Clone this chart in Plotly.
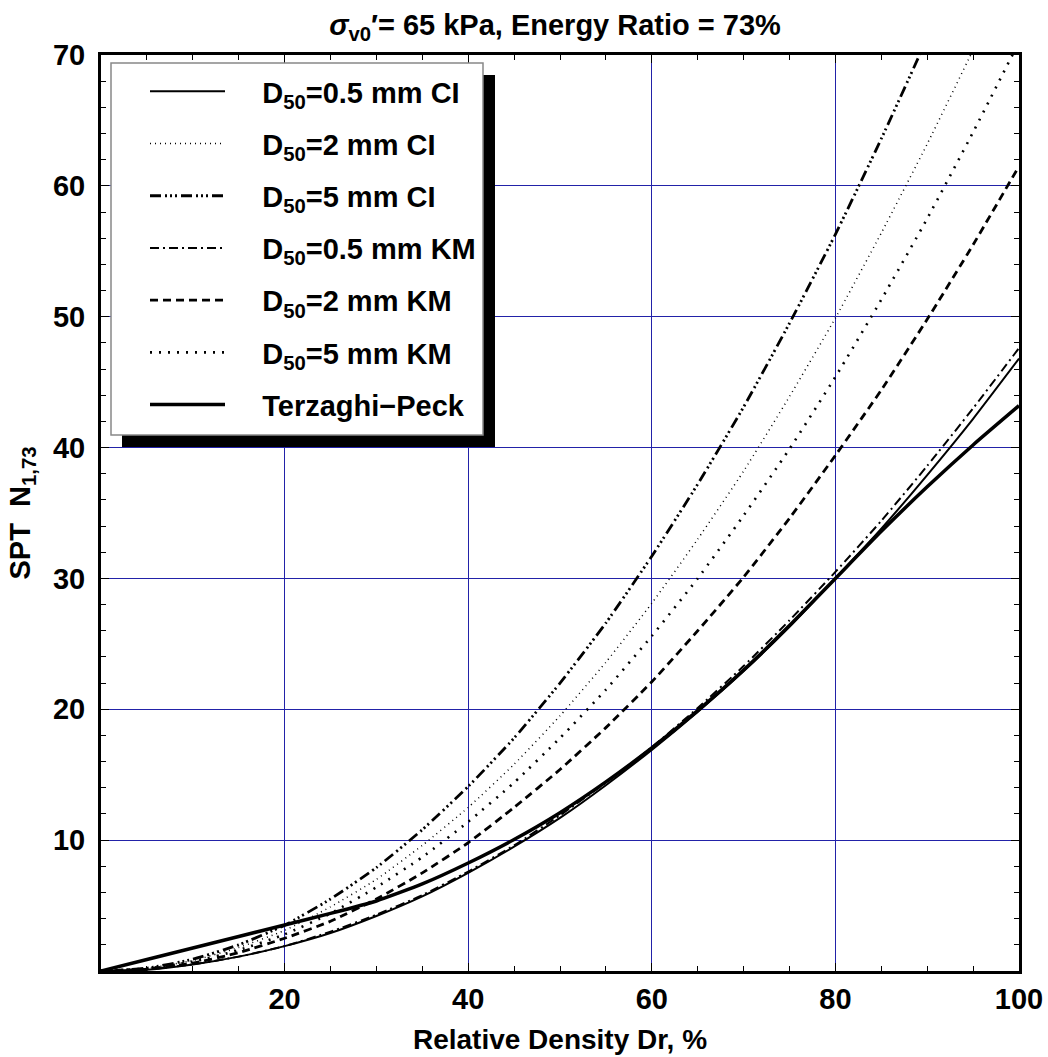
import plotly.graph_objects as go

dr = [0, 5, 10, 15, 20, 25, 30, 35, 40, 45, 50, 55, 60, 65, 70, 75, 80, 85, 90, 95, 100]

n_05_ci = [0, 0.1, 0.5, 1.1, 1.9, 2.9, 4.2, 5.7, 7.5, 9.5, 11.7, 14.2, 16.9, 19.8, 22.9, 26.3, 30.0, 33.8, 37.9, 42.2, 46.8]
n_2_ci = [0, 0.2, 0.8, 1.8, 3.1, 4.9, 7.0, 9.6, 12.5, 15.8, 19.5, 23.6, 28.1, 33.0, 38.2, 43.9, 49.9, 56.4, 63.2, 70.4, 78.0]
n_5_ci = [0, 0.22, 0.9, 2.0, 3.5, 5.5, 7.9, 10.8, 14.1, 17.8, 22.0, 26.6, 31.7, 37.2, 43.1, 49.5, 56.3, 63.6, 71.3, 79.4, 88.0]
n_05_km = [0, 0.12, 0.5, 1.1, 1.9, 3.0, 4.3, 5.8, 7.6, 9.6, 11.9, 14.4, 17.1, 20.1, 23.3, 26.8, 30.5, 34.4, 38.6, 43.0, 47.6]
n_2_km = [0, 0.15, 0.6, 1.4, 2.5, 3.8, 5.5, 7.5, 9.8, 12.5, 15.4, 18.6, 22.1, 26.0, 30.1, 34.6, 39.4, 44.4, 49.8, 55.5, 61.5]
n_5_km = [0, 0.2, 0.7, 1.6, 2.8, 4.4, 6.4, 8.7, 11.4, 14.4, 17.8, 21.5, 25.6, 30.0, 34.8, 39.9, 45.4, 51.3, 57.5, 64.1, 71.0]
n_tp = [0, 0.88, 1.76, 2.64, 3.52, 4.4, 5.35, 6.65, 8.25, 10.05, 12.1, 14.45, 17.05, 19.9, 23.0, 26.4, 30.0, 33.6, 37.0, 40.2, 43.2]

names = ["D<sub>50</sub>=0.5 mm CI", "D<sub>50</sub>=2 mm CI", "D<sub>50</sub>=5 mm CI",
         "D<sub>50</sub>=0.5 mm KM", "D<sub>50</sub>=2 mm KM", "D<sub>50</sub>=5 mm KM", "Terzaghi\u2212Peck"]
series = [n_05_ci, n_2_ci, n_5_ci, n_05_km, n_2_km, n_5_km, n_tp]
styles = [
    dict(width=2, dash="solid"),
    dict(width=1.5, dash="1px,4px"),
    dict(width=2.8, dash="11px,4px,2px,3px,2px,3px,2px,4px"),
    dict(width=2, dash="9px,4px,2px,4px"),
    dict(width=2.8, dash="8px,5px"),
    dict(width=2.6, dash="2px,7px"),
    dict(width=3.5, dash="solid"),
]

FONT = "Arial, Liberation Sans, sans-serif"
PAD = "\u00a0" * 4
fig = go.Figure()
for i, (nm, ys, st) in enumerate(zip(names, series, styles)):
    fig.add_trace(go.Scatter(
        x=dr, y=ys, mode="lines", name=PAD + nm,
        line=dict(color="black", shape="spline", smoothing=0.5, **st),
        legendgroup=f"g{i}",
    ))

grid_col = "#2222a8"
tfont = dict(family=FONT, size=29, color="black", weight="bold")
fig.update_xaxes(
    range=[0, 100], tickvals=[20, 40, 60, 80, 100], showgrid=True, gridcolor=grid_col, gridwidth=1,
    showline=True, linecolor="black", linewidth=3, mirror="allticks",
    ticks="inside", ticklen=8, tickwidth=1, tickcolor="black",
    minor=dict(dtick=5, ticks="inside", ticklen=5, tickcolor="black", showgrid=False),
    tickfont=tfont, automargin=False,
    title=dict(text="Relative Density Dr, %", font=dict(family=FONT, size=28, color="black", weight="bold"), standoff=16),
    zeroline=False,
)
fig.update_yaxes(
    range=[0, 70], tickvals=[10, 20, 30, 40, 50, 60, 70], showgrid=True, gridcolor=grid_col, gridwidth=1,
    showline=True, linecolor="black", linewidth=3, mirror="allticks",
    ticks="inside", ticklen=8, tickwidth=1, tickcolor="black",
    minor=dict(dtick=2, ticks="inside", ticklen=5, tickcolor="black", showgrid=False),
    tickfont=tfont, ticklabelstandoff=7, automargin=False,
    title=dict(text="SPT  N<sub>1,73</sub>", font=dict(family=FONT, size=29, color="black", weight="bold"), standoff=14),
    zeroline=False,
)

# legend shadow and box
fig.add_shape(type="rect", xref="paper", yref="paper",
              x0=(122 - 101) / 918, x1=(495 - 101) / 918,
              y0=(971 - 447) / 916, y1=(971 - 75) / 916,
              fillcolor="black", line=dict(width=0), layer="above")
fig.add_shape(type="rect", xref="paper", yref="paper",
              x0=(111 - 101) / 918, x1=(483 - 101) / 918,
              y0=(971 - 435) / 916, y1=(971 - 63) / 916,
              fillcolor="white", line=dict(width=1.5, color="#888888"), layer="above")

fig.update_layout(
    width=1048, height=1057,
    margin=dict(l=101, r=29, t=55, b=86, autoexpand=False),
    paper_bgcolor="white", plot_bgcolor="white",
    title=dict(text="<i>\u03c3</i><sub>v0</sub>\u2032= 65 kPa, Energy Ratio = 73%",
               x=(555 - 101) / 918, xref="paper", xanchor="center",
               y=1 - 25 / 1057, yref="container", yanchor="middle",
               font=dict(family=FONT, size=29, color="black", weight="bold")),
    legend=dict(x=(145 - 101) / 918, y=(971 - 66) / 916, xanchor="left", yanchor="top",
                bgcolor="rgba(0,0,0,0)", borderwidth=0,
                font=dict(family=FONT, size=29, color="black", weight="bold"),
                traceorder="grouped", tracegroupgap=11.5, itemwidth=75),
    showlegend=True,
)

fig.write_html("out.html")
